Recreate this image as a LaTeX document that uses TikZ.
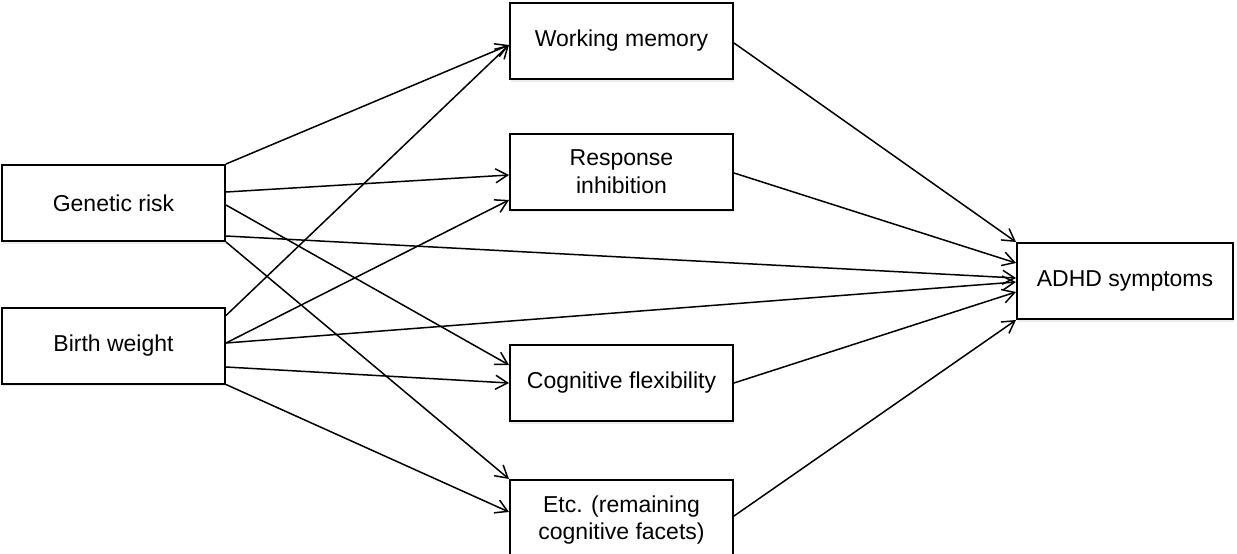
\documentclass[tikz,border=0pt]{standalone}
\usepackage{fontspec}
\setmainfont{Liberation Sans}
\usetikzlibrary{arrows.meta,shadows}

\begin{document}
\begin{tikzpicture}[x=1pt,y=-1pt,->,>={Straight Barb[length=12pt,width=14pt]},line width=1.5pt]
  \tikzstyle{box}=[draw,rectangle,fill=white,line width=2pt,minimum width=223pt,minimum height=76pt,
    align=center,font=\fontsize{23}{27.5}\selectfont,
    drop shadow={shadow xshift=1pt,shadow yshift=-2.5pt,opacity=0.15}]
  \useasboundingbox (0,0) rectangle (1237,554);
  \node[box] (GR) at (113.5,203)   {Genetic risk};
  \node[box] (BW) at (113.5,345.5) {Birth weight};
  \node[box] (WM) at (621.5,41)    {Working memory};
  \node[box] (RI) at (621.5,171.5) {Response\\inhibition};
  \node[box] (CF) at (621.5,383)   {Cognitive flexibility};
  \node[box,minimum height=80pt] (ETC) at (621.5,520) {Etc. (remaining\\cognitive facets)};
  \node[box,minimum width=216pt] (ADHD) at (1125,281) {ADHD symptoms};
  % genetic risk
  \draw (GR.north east) -- ([yshift=-4pt]WM.west);
  \draw ([yshift=11pt]GR.east) -- ([yshift=-3.5pt]RI.west);
  \draw ([yshift=-2pt]GR.east) -- ([yshift=18pt]CF.west);
  \draw ([yshift=-33pt]GR.east) -- ([yshift=3pt]ADHD.west);
  \draw (GR.south east) -- (ETC.north west);
  % birth weight
  \draw ([yshift=30pt]BW.east) -- ([yshift=-4pt]WM.west);
  \draw ([yshift=2.5pt]BW.east) -- ([yshift=-28.5pt]RI.west);
  \draw ([yshift=2.5pt]BW.east) -- ([yshift=-1pt]ADHD.west);
  \draw ([yshift=-21.5pt]BW.east) -- (CF.west);
  \draw (BW.south east) -- ([yshift=8pt]ETC.west);
  % cognition
  \draw ([yshift=-2pt]WM.east) -- (ADHD.north west);
  \draw ([yshift=-1.5pt]RI.east) -- ([yshift=18pt]ADHD.west);
  \draw (CF.east) -- ([yshift=-11pt]ADHD.west);
  \draw ([yshift=4pt]ETC.east) -- (ADHD.south west);
\end{tikzpicture}
\end{document}
